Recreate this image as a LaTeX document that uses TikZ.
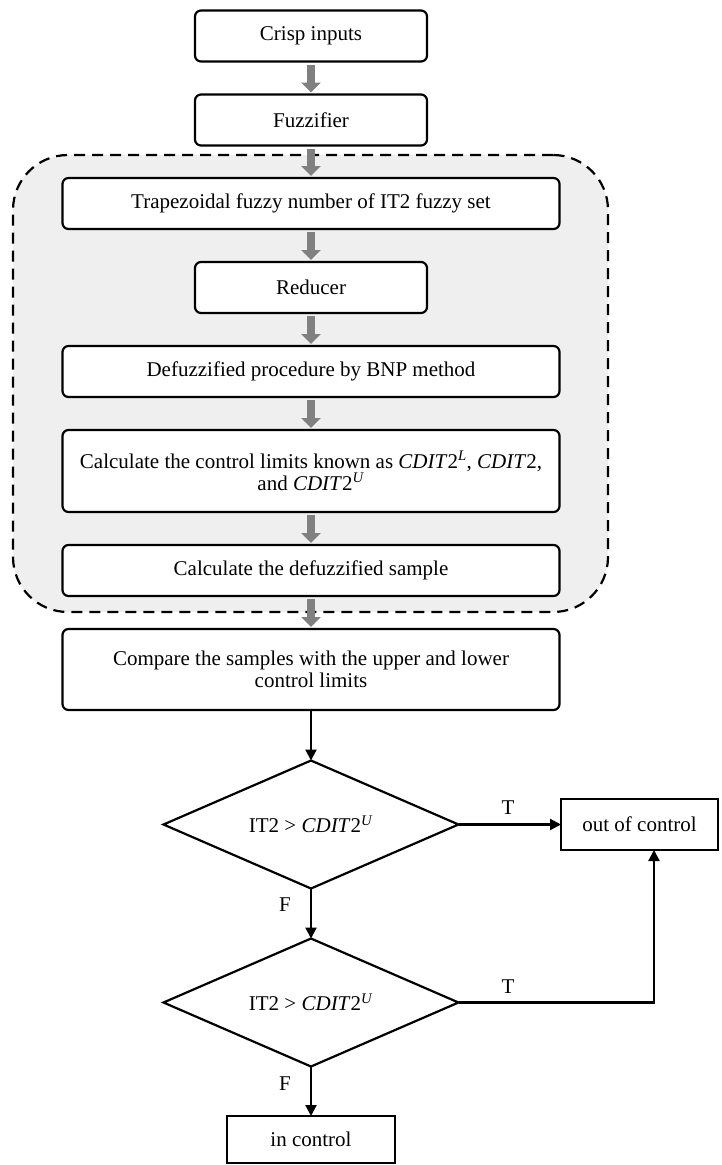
\documentclass[tikz,border=0pt]{standalone}
\usepackage{fontspec}
\setmainfont{Liberation Serif}
\usetikzlibrary{shapes.geometric,arrows.meta}
\definecolor{arrowgray}{RGB}{128,128,128}
\definecolor{groupfill}{RGB}{239,239,239}
\newcommand{\cdit}[1]{\textit{CDIT}2\textsuperscript{\textit{#1}}}
\begin{document}
\begin{tikzpicture}[x=1pt, y=-1pt,
    every node/.style={font=\fontsize{21}{22}\selectfont, outer sep=0pt},
    stepbox/.style={draw, line width=2.2pt, rounded corners=6pt, fill=white, align=center, minimum height=51pt},
    plainbox/.style={draw, line width=2.2pt, fill=white, align=center, minimum height=51pt},
    groupbox/.style={draw, line width=2.2pt, dash pattern=on 11pt off 7pt, rounded corners=55pt, fill=groupfill},
    decision/.style={draw, diamond, line width=2.2pt, aspect=2.3, inner sep=3pt, minimum width=295pt, minimum height=128pt},
    grayarrow/.style={draw=arrowgray, line width=8pt, -{Triangle[length=10pt,width=19pt]}},
    flowarrow/.style={line width=2.2pt, -{Triangle[length=11pt,width=11pt]}}]
  \useasboundingbox (0,0) rectangle (721,1165);
  \node[groupbox, minimum width=595pt, minimum height=457pt] (group) at (310.5,383.5){};
  \node[stepbox, minimum width=232pt] (crisp) at (311,36){Crisp inputs};
  \node[stepbox, minimum width=232pt] (fuzz) at (311,120){Fuzzifier};
  \node[stepbox, minimum width=497pt] (trap) at (311,203.5){Trapezoidal fuzzy number of IT2 fuzzy set};
  \node[stepbox, minimum width=232pt] (reducer) at (311,287.5){Reducer};
  \node[stepbox, minimum width=497pt] (bnp) at (311,371.5){Defuzzified procedure by BNP method};
  \node[stepbox, minimum width=497pt, minimum height=82pt] (limits) at (311,471){Calculate the control limits known as \cdit{L}, \textit{CDIT}2,\\ and \cdit{U}};
  \node[stepbox, minimum width=497pt] (sample) at (311,570.5){Calculate the defuzzified sample};
  \node[stepbox, minimum width=497pt, minimum height=81pt] (compare) at (311,669.5){Compare the samples with the upper and lower\\ control limits};
  \node[decision] (test1) at (311,824.5){IT2 > \cdit{U}};
  \node[plainbox, minimum width=157pt] (outctrl) at (639.5,824.5){out of control};
  \node[decision] (test2) at (311,1002.5){IT2 > \cdit{U}};
  \node[plainbox, minimum width=168pt, minimum height=47pt] (inctrl) at (311,1139.5){in control};
  \draw[grayarrow]([yshift=-3pt]crisp.south) -- ([yshift=2pt]fuzz.north);
  \draw[grayarrow]([yshift=-3pt]fuzz.south) -- ([yshift=2pt]trap.north);
  \draw[grayarrow]([yshift=-3pt]trap.south) -- ([yshift=2pt]reducer.north);
  \draw[grayarrow]([yshift=-3pt]reducer.south) -- ([yshift=2pt]bnp.north);
  \draw[grayarrow]([yshift=-3pt]bnp.south) -- ([yshift=2pt]limits.north);
  \draw[grayarrow]([yshift=-3pt]limits.south) -- ([yshift=2pt]sample.north);
  \draw[grayarrow]([yshift=-3pt]sample.south) -- ([yshift=2pt]compare.north);
  \draw[flowarrow](compare.south) -- (test1.north);
  \draw[flowarrow](test1.east) -- (outctrl.west);
  \draw[flowarrow](test1.south) -- (test2.north);
  \draw[flowarrow](test2.east) -| ([xshift=14.5pt]outctrl.south);
  \draw[flowarrow](test2.south) -- (inctrl.north);
  \node (t1) at (508,808){T};
  \node (t2) at (508,987){T};
  \node (f1) at (285,905){F};
  \node (f2) at (285,1084){F};
\end{tikzpicture}
\end{document}
